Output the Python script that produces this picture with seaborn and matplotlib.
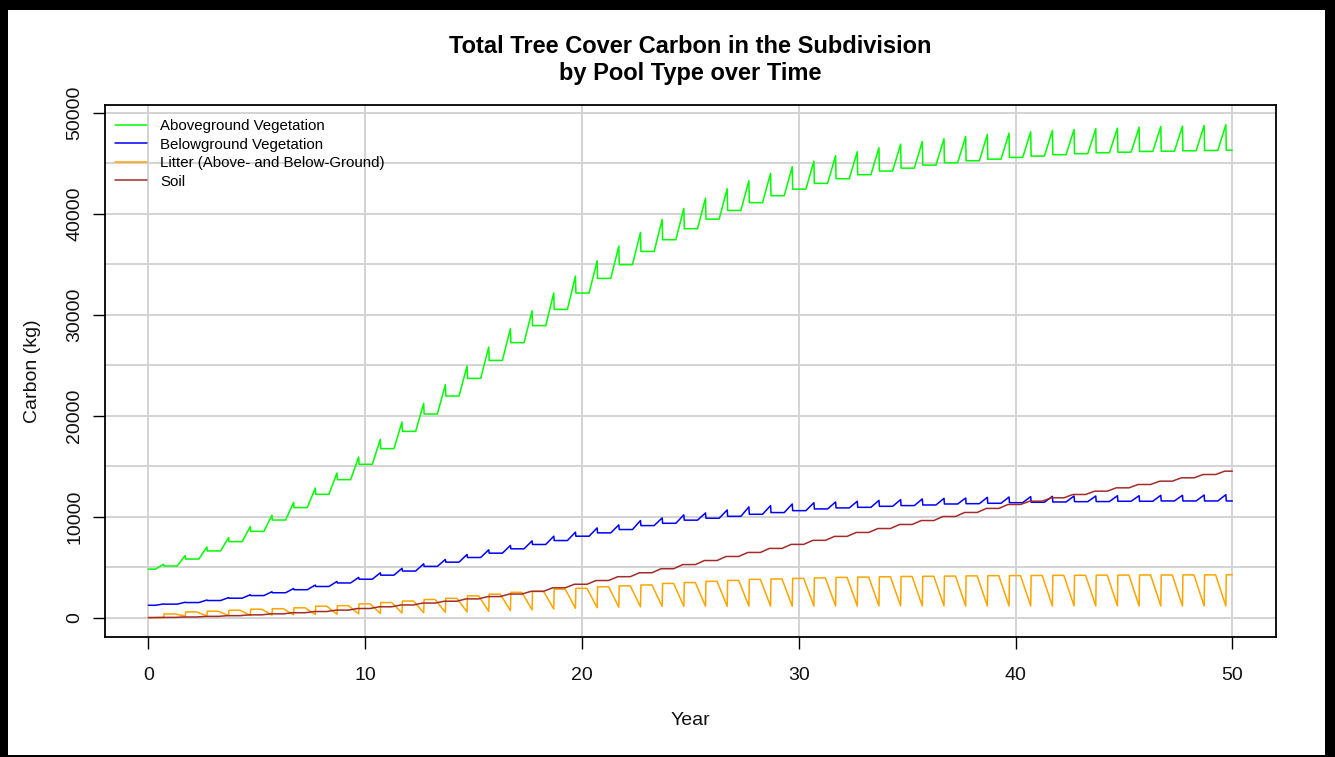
import matplotlib
matplotlib.use("Agg")
import numpy as np
import pandas as pd
import matplotlib.pyplot as plt
from matplotlib.lines import Line2D
from matplotlib.patches import Rectangle
import seaborn as sns

# Aboveground vegetation: flat level at the start of each year (0..50) and yearly peak (0..49)
above_low = [4800, 5110, 5800, 6600, 7520, 8540, 9660, 10890, 12210, 13660,
             15180, 16730, 18440, 20160, 21940, 23690, 25470, 27230, 28910, 30520,
             32140, 33590, 34950, 36260, 37420, 38510, 39460, 40320, 41090, 41780,
             42430, 43000, 43460, 43860, 44220, 44510, 44810, 45050, 45240, 45400,
             45570, 45700, 45840, 45940, 46030, 46090, 46160, 46190, 46230, 46260,
             46290]
above_peak = [5280, 6140, 6990, 7920, 9010, 10130, 11410, 12830, 14320, 15900,
              17650, 19370, 21220, 23070, 24910, 26790, 28610, 30390, 32140, 33820,
              35340, 36790, 38140, 39430, 40520, 41540, 42470, 43260, 43990, 44650,
              45200, 45740, 46130, 46530, 46890, 47150, 47420, 47650, 47850, 47980,
              48110, 48240, 48340, 48410, 48470, 48570, 48640, 48670, 48740, 48810]

# Belowground vegetation
below_low = [1220, 1330, 1490, 1690, 1920, 2180, 2460, 2760, 3080, 3430,
             3800, 4200, 4610, 5070, 5490, 5950, 6380, 6810, 7240, 7630,
             8060, 8390, 8720, 9110, 9340, 9650, 9840, 10030, 10230, 10400,
             10590, 10760, 10860, 10920, 11020, 11090, 11150, 11250, 11280, 11320,
             11380, 11420, 11450, 11480, 11490, 11520, 11520, 11550, 11550, 11550,
             11550]
below_peak = [1350, 1520, 1740, 1980, 2260, 2560, 2880, 3220, 3580, 3980,
              4440, 4880, 5330, 5760, 6250, 6710, 7140, 7600, 8060, 8460,
              8880, 9180, 9610, 9870, 10170, 10360, 10660, 10960, 11090, 11250,
              11380, 11450, 11520, 11610, 11680, 11750, 11810, 11840, 11910, 11940,
              11980, 12010, 12040, 12040, 12070, 12070, 12110, 12110, 12140, 12170]

# Litter: level after each year's litterfall (0..49) and minimum before the next one (0..48)
litter_top = [360, 560, 630, 730, 830, 880, 970, 1130, 1180, 1360,
              1490, 1640, 1790, 1910, 2150, 2320, 2500, 2600, 2810, 2900,
              3050, 3140, 3230, 3380, 3470, 3590, 3680, 3780, 3820, 3880,
              3930, 3980, 4010, 4040, 4070, 4090, 4110, 4130, 4150, 4160,
              4170, 4180, 4190, 4200, 4210, 4220, 4220, 4230, 4230, 4240]
litter_min = [150, 170, 190, 210, 240, 270, 300, 330, 370, 410,
              440, 480, 520, 560, 620, 690, 760, 850, 920, 980,
              1030, 1070, 1100, 1110, 1120, 1120, 1130, 1130, 1130, 1140,
              1140, 1140, 1150, 1150, 1150, 1150, 1150, 1150, 1150, 1150,
              1150, 1150, 1150, 1150, 1150, 1150, 1150, 1150, 1150]

# Soil: level at the start of each year (0..50)
soil = [0, 20, 60, 120, 190, 270, 370, 480, 600, 740,
        900, 1070, 1250, 1440, 1620, 1850, 2080, 2330, 2600, 2950,
        3300, 3670, 4050, 4440, 4840, 5250, 5650, 6050, 6450, 6850,
        7250, 7650, 8040, 8430, 8820, 9220, 9610, 10010, 10410, 10810,
        11200, 11530, 11860, 12190, 12520, 12850, 13180, 13510, 13840, 14170,
        14500]

labels = ["Aboveground Vegetation", "Belowground Vegetation",
          "Litter (Above- and Below-Ground)", "Soil"]
colors = ["#00ff00", "#0000ff", "#ffa500", "#a52a2a"]
x_ticks = [0, 10, 20, 30, 40, 50]
y_ticks = [0, 10000, 20000, 30000, 40000, 50000]

# month-of-year timing (fraction of a year)
GROW_START, GROW_END, DROP = 0.33, 0.70, 0.72
DECAY_START, SOIL_START, SOIL_END = 0.23, 0.23, 0.65
n_years = len(above_peak)


def veg_path(low, peak):
    xs, ys = [0.0], [low[0]]
    for n in range(len(peak)):
        xs += [n + GROW_START, n + GROW_END, n + DROP]
        ys += [low[n], peak[n], low[n + 1]]
    xs.append(float(n_years))
    ys.append(low[-1])
    return xs, ys


def litter_path(top, mins):
    xs, ys = [0.0, GROW_END], [0, 0]
    for n in range(len(top)):
        xs.append(n + DROP)
        ys.append(top[n])
        if n < len(mins):
            xs += [n + 1 + DECAY_START, n + 1 + GROW_END]
            ys += [top[n], mins[n]]
        else:
            xs.append(float(n_years))
            ys.append(top[n])
    return xs, ys


def soil_path(s):
    xs, ys = [0.0], [s[0]]
    for n in range(n_years):
        xs += [n + SOIL_START, n + SOIL_END]
        ys += [s[n], s[n + 1]]
    xs.append(float(n_years))
    ys.append(s[-1])
    return xs, ys


paths = [veg_path(above_low, above_peak), veg_path(below_low, below_peak),
         litter_path(litter_top, litter_min), soil_path(soil)]
frames = []
for lab, (xs, ys) in zip(labels, paths):
    frames.append(pd.DataFrame({"Year": xs, "Carbon": ys, "pool": lab}))
df = pd.concat(frames, ignore_index=True)

sns.set_style("white")
plt.rcParams["font.family"] = ["Liberation Sans", "DejaVu Sans"]
plt.rcParams["text.color"] = "black"

W, H = 1335, 757
fig = plt.figure(figsize=(W / 100, H / 100), dpi=100)
fig.patch.set_facecolor("black")
fig.add_artist(Rectangle((8 / W, 2 / H), (1325 - 8) / W, (755 - 10) / H,
                         transform=fig.transFigure, facecolor="white",
                         edgecolor="none", zorder=-5))
ax = fig.add_axes([105 / W, 1 - 637.3 / H, (1275.7 - 105) / W, (637.3 - 105) / H])
ax.set_facecolor("white")

sns.lineplot(data=df, x="Year", y="Carbon", hue="pool", hue_order=labels,
             palette=dict(zip(labels, colors)), estimator=None, sort=False,
             linewidth=1.1, legend=False, ax=ax, zorder=3)

ymax = df["Carbon"].max()
ax.set_xlim(-0.04 * n_years, n_years * 1.04)
ax.set_ylim(-0.04 * ymax, ymax * 1.04)

ax.set_xticks(x_ticks)
ax.set_xticklabels([str(t) for t in x_ticks])
ax.set_yticks(y_ticks)
ax.set_yticklabels([str(t) for t in y_ticks])
ax.set_yticks(np.arange(0, 50001, 5000), minor=True)
ax.grid(True, which="major", axis="x", color="#d3d3d3", linewidth=1.4, zorder=0)
ax.grid(True, which="both", axis="y", color="#d3d3d3", linewidth=1.4, zorder=0)
ax.set_axisbelow(True)
ax.tick_params(axis="both", which="major", direction="out", length=8.6, width=1,
               color="black", labelsize=14, labelcolor="#111111",
               bottom=True, left=True)
ax.tick_params(axis="x", pad=13)
ax.tick_params(axis="y", pad=7)
ax.tick_params(axis="y", which="minor", length=0)
for lab in ax.get_yticklabels():
    lab.set_rotation(90)
    lab.set_va("center")

for sp in ax.spines.values():
    sp.set_visible(True)
    sp.set_color("black")
    sp.set_linewidth(1.3)

ax.set_xlabel("Year", fontsize=14, labelpad=20, color="#111111")
ax.set_ylabel("Carbon (kg)", fontsize=14, labelpad=18, color="#111111")
ax.set_title("Total Tree Cover Carbon in the Subdivision\nby Pool Type over Time",
             fontsize=17, fontweight="bold", linespacing=1.25, pad=18,
             color="black")

handles = [Line2D([0], [0], color=c, linewidth=1.1) for c in colors]
ax.legend(handles, labels, loc="upper left", bbox_to_anchor=(0.005, 0.982),
          frameon=False, fontsize=10.8, handlelength=2.13, handletextpad=0.85,
          labelspacing=0.3, borderpad=0.3, borderaxespad=0)

fig.savefig("out.png", dpi=100, facecolor=fig.get_facecolor())
